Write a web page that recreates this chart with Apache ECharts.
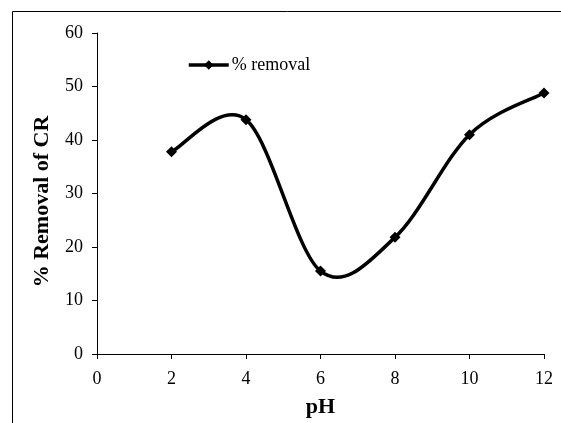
<!DOCTYPE html>
<html>
<head>
<meta charset="utf-8">
<script src="https://cdn.jsdelivr.net/npm/echarts@6/dist/echarts.min.js"></script>
<style>
  html, body { margin: 0; padding: 0; background: #fff; }
  #main { width: 561px; height: 423px; }
</style>
</head>
<body>
<div id="main"></div>
<script>
// pH values and removal percentages
var phValues = [2, 4, 6, 8, 10, 12];
var removal = [37.8, 43.8, 15.5, 21.8, 41.0, 48.8];
var xTicks = [0, 2, 4, 6, 8, 10, 12];
var yTicks = [0, 10, 20, 30, 40, 50, 60];

var serif = '"Liberation Serif", "Times New Roman", serif';

var chart = echarts.init(document.getElementById('main'));

var points = phValues.map(function (p, i) { return [p, removal[i]]; });

// Excel style smoothed segment (Catmull-Rom as cubic bezier), one per data item
function drawSegment(params, api) {
    var i = params.dataIndex;
    if (i >= points.length - 1) return;
    var px = points.map(function (p) { return api.coord(p); });
    var p0 = px[Math.max(i - 1, 0)];
    var p1 = px[i];
    var p2 = px[i + 1];
    var p3 = px[Math.min(i + 2, px.length - 1)];
    return {
        type: 'bezierCurve',
        shape: {
            x1: p1[0], y1: p1[1],
            x2: p2[0], y2: p2[1],
            cpx1: p1[0] + (p2[0] - p0[0]) / 6,
            cpy1: p1[1] + (p2[1] - p0[1]) / 6,
            cpx2: p2[0] - (p3[0] - p1[0]) / 6,
            cpy2: p2[1] - (p3[1] - p1[1]) / 6
        },
        style: { stroke: '#000', lineWidth: 3.5, fill: null }
    };
}

var option = {
    animation: false,
    backgroundColor: '#fff',
    graphic: [{
        type: 'rect',
        shape: { x: 12.5, y: 11.5, width: 700, height: 600 },
        style: { fill: 'none', stroke: '#000', lineWidth: 1 }
    }],
    grid: { left: 97, right: 17, top: 33, bottom: 67 },
    legend: {
        left: 187, top: 56, padding: 0,
        itemWidth: 40, itemHeight: 12,
        itemGap: 4,
        lineStyle: { color: '#000', width: 3.5, opacity: 1 },
        textStyle: { fontFamily: serif, fontSize: 18, color: '#000', padding: [0, 0, 0, -2] },
        data: ['% removal']
    },
    xAxis: {
        type: 'value',
        min: xTicks[0], max: xTicks[xTicks.length - 1], interval: 2,
        name: 'pH', nameLocation: 'middle', nameGap: 42,
        nameTextStyle: { fontFamily: serif, fontSize: 22, fontWeight: 'bold', color: '#000' },
        axisLine: { lineStyle: { color: '#000', width: 1 } },
        axisTick: { show: true, length: 5, lineStyle: { color: '#000' } },
        axisLabel: { fontFamily: serif, fontSize: 18, color: '#000', margin: 16 },
        splitLine: { show: false }
    },
    yAxis: {
        type: 'value',
        min: yTicks[0], max: yTicks[yTicks.length - 1], interval: 10,
        name: '% Removal of CR', nameLocation: 'middle', nameGap: 44,
        nameTextStyle: { fontFamily: serif, fontSize: 22, fontWeight: 'bold', color: '#000', padding: [0, 16, 0, 0] },
        axisLine: { show: true, lineStyle: { color: '#000', width: 1 } },
        axisTick: { show: true, length: 5, lineStyle: { color: '#000' } },
        axisLabel: { fontFamily: serif, fontSize: 18, color: '#000', margin: 14 },
        splitLine: { show: false }
    },
    series: [{
        type: 'custom',
        name: 'curve',
        renderItem: drawSegment,
        data: points,
        encode: { x: 0, y: 1 },
        silent: true
    }, {
        name: '% removal',
        type: 'line',
        data: points,
        symbol: 'diamond',
        symbolSize: 11,
        itemStyle: { color: '#000' },
        lineStyle: { color: '#000', width: 3.5, opacity: 0 }
    }]
};

chart.setOption(option);
</script>
</body>
</html>
